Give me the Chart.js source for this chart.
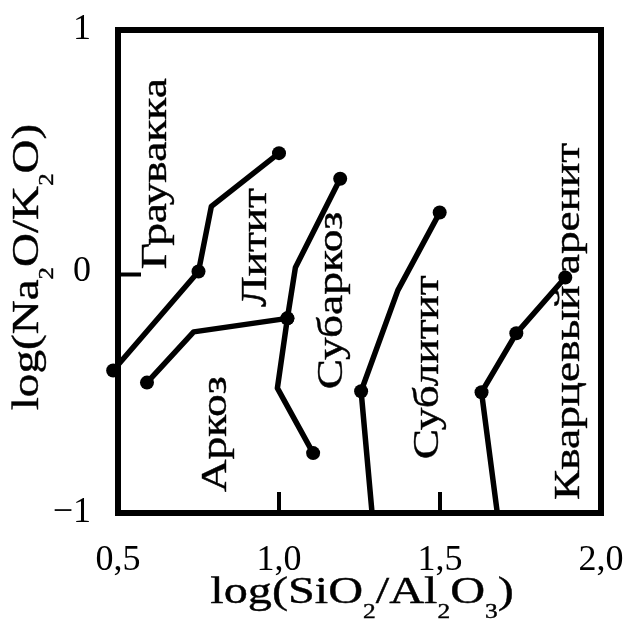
<!DOCTYPE html>
<html>
<head>
<meta charset="utf-8">
<script src="https://cdn.jsdelivr.net/npm/chart.js@4.4.0/dist/chart.umd.min.js"></script>
<style>
    html, body { margin: 0; padding: 0; background: #fff; }
    canvas { display: block; }
</style>
</head>
<body>
<canvas id="chart" width="633" height="630"></canvas>
<script>
// axis ticks
var xTicks = [0.5, 1.0, 1.5, 2.0];
var xTickLabels = ['0,5', '1,0', '1,5', '2,0'];
var yTicks = [-1, 0, 1];
var yTickLabels = ['\u22121', '0', '1'];
var innerTicksX = [1.0, 1.5];
var innerTicksY = [0];

// boundary lines (1 = dot at the point)
var line1X = [0.485, 0.75, 0.79, 1.0];
var line1Y = [-0.41, 0.0, 0.27, 0.49];
var line1Dots = [1, 1, 0, 1];

var line2X = [0.59, 0.735, 1.026];
var line2Y = [-0.46, -0.25, -0.194];
var line2Dots = [1, 0, 1];

var line3X = [1.106, 0.995, 1.026, 1.051, 1.19];
var line3Y = [-0.752, -0.483, -0.194, 0.017, 0.384];
var line3Dots = [1, 0, 1, 0, 1];

var line4X = [1.289, 1.255, 1.369, 1.499];
var line4Y = [-1.0, -0.496, -0.078, 0.244];
var line4Dots = [0, 1, 0, 1];

var line5X = [1.678, 1.629, 1.737, 1.889];
var line5Y = [-1.0, -0.50, -0.256, -0.025];
var line5Dots = [0, 1, 1, 1];

// field names
var regionNames = ['Граувакка', 'Литит', 'Аркоз', 'Субаркоз', 'Сублитит', 'Кварцевый аренит'];
var regionX = [0.648, 0.961, 0.834, 1.196, 1.493, 1.932];
var regionY = [0.405, 0.099, -0.674, -0.120, -0.397, -0.207];

var FONT = '"Liberation Serif", "Times New Roman", serif';

function makeLine(xs, ys, dots) {
    return {
        data: xs.map(function(x, i) { return {x: x, y: ys[i]}; }),
        showLine: true,
        borderColor: '#000',
        borderWidth: 5.5,
        borderJoinStyle: 'round',
        pointRadius: dots.map(function(d) { return d ? 7 : 0; }),
        pointHoverRadius: dots.map(function(d) { return d ? 7 : 0; }),
        pointBackgroundColor: '#000',
        pointBorderWidth: 0,
        clip: false
    };
}

// parts: [text, size, dy]
function drawRich(ctx, parts, x, y, rot, sx) {
    ctx.save();
    ctx.translate(x, y);
    ctx.rotate(rot);
    ctx.scale(sx, 1);
    ctx.fillStyle = '#000';
    ctx.strokeStyle = '#000';
    ctx.lineWidth = 0.4;
    ctx.textAlign = 'left';
    ctx.textBaseline = 'alphabetic';
    var w = 0;
    parts.forEach(function(p) {
        ctx.font = p[1] + 'px ' + FONT;
        w += ctx.measureText(p[0]).width;
    });
    var cx = -w / 2;
    parts.forEach(function(p) {
        ctx.font = p[1] + 'px ' + FONT;
        ctx.fillText(p[0], cx, p[2]);
        ctx.strokeText(p[0], cx, p[2]);
        cx += ctx.measureText(p[0]).width;
    });
    ctx.restore();
}

var frame = {
    id: 'frame',
    afterDatasetsDraw: function(chart) {
        var ctx = chart.ctx;
        var a = chart.chartArea;
        var xs = chart.scales.x, ys = chart.scales.y;

        ctx.save();
        ctx.strokeStyle = '#000';
        ctx.lineWidth = 6;
        ctx.strokeRect(a.left, a.top, a.right - a.left, a.bottom - a.top);

        ctx.lineWidth = 4;
        innerTicksX.forEach(function(v) {
            var px = xs.getPixelForValue(v);
            ctx.beginPath();
            ctx.moveTo(px, a.bottom);
            ctx.lineTo(px, a.bottom - 21);
            ctx.stroke();
        });
        innerTicksY.forEach(function(v) {
            var py = ys.getPixelForValue(v) + 3;
            ctx.beginPath();
            ctx.moveTo(a.left, py);
            ctx.lineTo(a.left + 23, py);
            ctx.stroke();
        });
        ctx.restore();

        regionNames.forEach(function(name, i) {
            drawRich(ctx, [[name, 36, 0]], xs.getPixelForValue(regionX[i]),
                ys.getPixelForValue(regionY[i]), -Math.PI / 2, 1.26);
        });

        drawRich(ctx, [['log(SiO', 38, 0], ['2', 20, 15], ['/Al', 38, 0], ['2', 20, 15],
            ['O', 38, 0], ['3', 20, 15], [')', 38, 0]], 362, 603, 0, 1.27);
        drawRich(ctx, [['log(Na', 38, 0], ['2', 20, 15], ['O/K', 38, 0], ['2', 20, 15],
            ['O)', 38, 0]], 38, 267, -Math.PI / 2, 1.24);
    }
};

new Chart(document.getElementById('chart'), {
    type: 'scatter',
    data: {
        datasets: [
            makeLine(line1X, line1Y, line1Dots),
            makeLine(line2X, line2Y, line2Dots),
            makeLine(line3X, line3Y, line3Dots),
            makeLine(line4X, line4Y, line4Dots),
            makeLine(line5X, line5Y, line5Dots)
        ]
    },
    options: {
        responsive: false,
        animation: false,
        layout: { padding: { top: 30, right: 32, left: 0, bottom: 0 } },
        plugins: { legend: { display: false }, tooltip: { enabled: false } },
        scales: {
            x: {
                type: 'linear',
                min: 0.5,
                max: 2.0,
                afterBuildTicks: function(axis) {
                    axis.ticks = xTicks.map(function(v) { return {value: v}; });
                },
                afterFit: function(axis) {
                    axis.height = 117;
                    axis.paddingLeft = 0;
                    axis.paddingRight = 0;
                },
                ticks: {
                    autoSkip: false,
                    maxRotation: 0,
                    padding: 18,
                    color: '#000',
                    font: { family: FONT, size: 36 },
                    callback: function(v, i) { return xTickLabels[i]; }
                },
                grid: { display: false },
                border: { display: false }
            },
            y: {
                type: 'linear',
                min: -1,
                max: 1,
                afterBuildTicks: function(axis) {
                    axis.ticks = yTicks.map(function(v) { return {value: v}; });
                },
                afterFit: function(axis) {
                    axis.width = 118;
                    axis.paddingTop = 0;
                    axis.paddingBottom = 0;
                },
                ticks: {
                    autoSkip: false,
                    padding: 19,
                    color: '#000',
                    font: { family: FONT, size: 36 },
                    callback: function(v, i) { return yTickLabels[i]; }
                },
                grid: { display: false },
                border: { display: false }
            }
        }
    },
    plugins: [frame]
});
</script>
</body>
</html>
